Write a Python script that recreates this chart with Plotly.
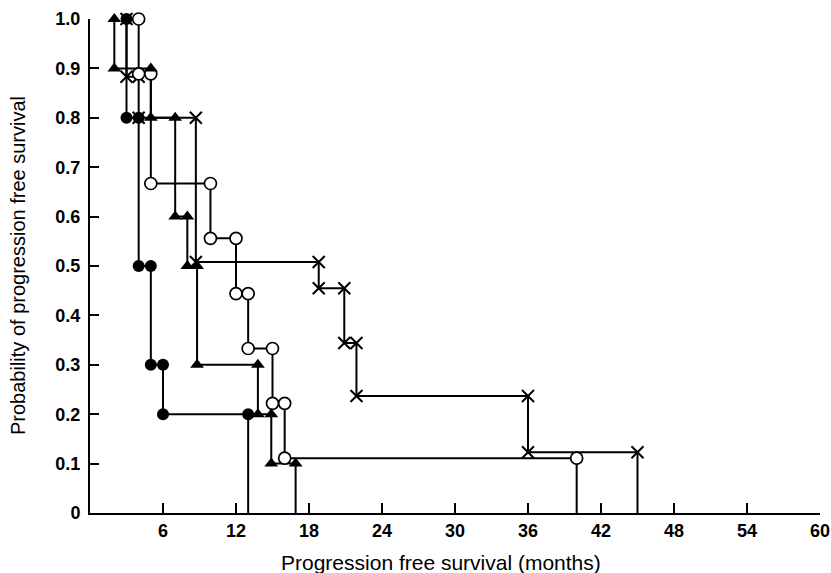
import plotly.graph_objects as go

# Event times (months) and survival probability after each event
tri_times = [2, 5, 7, 8, 8.8, 13.8, 14.9, 16.9]
tri_surv = [0.9, 0.8, 0.6, 0.5, 0.3, 0.2, 0.1, 0.0]

fc_times = [3, 4, 5, 6, 13]
fc_surv = [0.8, 0.5, 0.3, 0.2, 0.0]

oc_times = [4, 5, 9.9, 12, 13, 15, 16, 40]
oc_surv = [0.889, 0.667, 0.556, 0.444, 0.333, 0.222, 0.111, 0.0]

x_times = [3, 4, 8.7, 18.8, 20.9, 21.9, 36, 45]
x_surv = [0.883, 0.8, 0.508, 0.455, 0.344, 0.237, 0.123, 0.0]

x_ticks = [6, 12, 18, 24, 30, 36, 42, 48, 54, 60]
y_ticks = [0, 0.1, 0.2, 0.3, 0.4, 0.5, 0.6, 0.7, 0.8, 0.9, 1.0]
y_ticklabels = ["0", "0.1", "0.2", "0.3", "0.4", "0.5", "0.6", "0.7", "0.8", "0.9", "1.0"]


def step_path(times, surv):
    xs, ys = [times[0]], [1.0]
    prev = 1.0
    for i, (t, s) in enumerate(zip(times, surv)):
        if i > 0:
            xs.append(t)
            ys.append(prev)
        xs.append(t)
        ys.append(s)
        prev = s
    return xs, ys


fig = go.Figure()
series = [
    (x_times, x_surv, dict(symbol="x-thin", size=12, color="black",
                           line=dict(color="black", width=2))),
    (oc_times, oc_surv, dict(symbol="circle", size=12, color="white",
                             line=dict(color="black", width=1.7))),
    (fc_times, fc_surv, dict(symbol="circle", size=12, color="black")),
    (tri_times, tri_surv, dict(symbol="triangle-up", size=12, color="black")),
]

paths = [step_path(t, s) for t, s, _ in series]
for xs, ys in paths:
    fig.add_trace(go.Scatter(x=xs, y=ys, mode="lines",
                             line=dict(color="black", width=2),
                             cliponaxis=False, showlegend=False,
                             hoverinfo="skip"))
for (xs, ys), (_, _, mk) in zip(paths, series):
    fig.add_trace(go.Scatter(x=xs[:-1], y=ys[:-1], mode="markers",
                             marker=mk, cliponaxis=False, showlegend=False))

fig.update_layout(
    width=831, height=573,
    margin=dict(l=90, r=11, t=19, b=60, autoexpand=False),
    plot_bgcolor="white", paper_bgcolor="white",
    font=dict(family="Liberation Sans, Arial, sans-serif", color="black"),
    xaxis=dict(range=[0, 60], tickvals=x_ticks, ticks="inside", ticklen=10,
               tickwidth=1.5, tickcolor="black", showline=True,
               linecolor="black", linewidth=2, showgrid=False, zeroline=False,
               automargin=False,
               tickfont=dict(size=18, family="Liberation Sans", weight="bold")),
    yaxis=dict(range=[0, 1.0], tickvals=y_ticks, ticktext=y_ticklabels,
               ticks="inside", ticklen=9, tickwidth=1.5, tickcolor="black",
               showline=True, linecolor="black", linewidth=2, showgrid=False,
               zeroline=False, ticklabelstandoff=4, automargin=False,
               tickfont=dict(size=18, family="Liberation Sans", weight="bold")),
    annotations=[
        dict(text="Progression free survival (months)", xref="paper",
             yref="paper", x=0.481, y=-0.101, xanchor="center",
             yanchor="middle", showarrow=False, font=dict(size=21)),
        dict(text="Probability of progression free survival", xref="paper",
             yref="paper", x=-0.0986, y=0.5, xanchor="center",
             yanchor="middle", textangle=-90, showarrow=False,
             font=dict(size=20)),
    ],
)

fig.write_html(
    "out.html",
    config={"displayModeBar": False},
    post_script="document.body.style.margin='0';"
                "document.body.style.overflow='hidden';",
)
